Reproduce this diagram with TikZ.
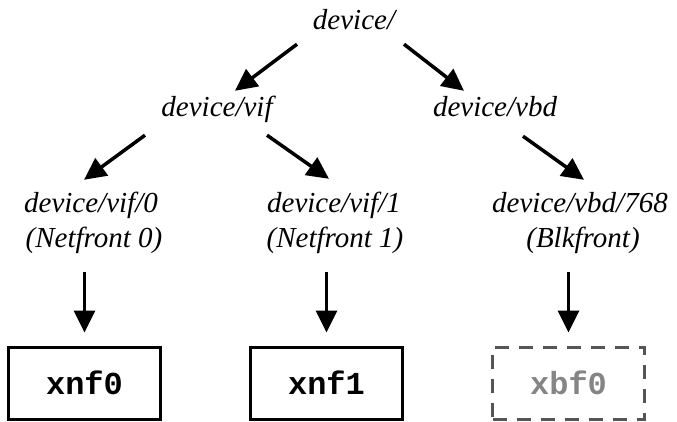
\documentclass[tikz,border=0pt]{standalone}
\usepackage{fontspec}
\setmainfont{Liberation Serif}
\setmonofont{Liberation Mono}
\usetikzlibrary{arrows.meta,calc}

\definecolor{dashgray}{HTML}{555555}
\definecolor{textgray}{HTML}{858585}

\begin{document}
\begin{tikzpicture}[x=1pt,y=-1pt,
    path/.style={font=\fontsize{29}{35}\selectfont\itshape, inner sep=0pt,
                 text height=20pt, text depth=6pt, anchor=base},
    dev/.style={draw, line width=3pt, minimum width=152pt, minimum height=72pt,
                font=\fontsize{32}{36}\selectfont\ttfamily\bfseries},
    ghost/.style={dev, draw=dashgray, text=textgray, dash pattern=on 14pt off 10pt},
    link/.style={line width=3.5pt, -{Triangle[length=22pt,width=21pt]}}]

    % --- Frame ---
    \useasboundingbox (0,0) rectangle (677,422);

    % --- Store paths ---
    \node[path] (root) at (354,30) {device/};
    \node[path] (vif) at (217,117) {device/vif};
    \node[path] (vbd) at (495,117) {device/vbd};

    \node[path] (vifzero) at (91,212) {device/vif/0};
    \node[path] (netzero) at (94,247) {(Netfront 0)};
    \node[path] (vifone) at (334,212) {device/vif/1};
    \node[path] (netone) at (335,247) {(Netfront 1)};
    \node[path] (vbdsvn) at (580,212) {device/vbd/768};
    \node[path] (blk) at (583,247) {(Blkfront)};

    % --- Devices in the guest ---
    \node[dev] (xnfzero) at (84.5,383) {xnf0};
    \node[dev] (xnfone) at (326.5,383) {xnf1};
    \node[ghost] (xbfzero) at (568.5,383) {xbf0};

    % --- Tree arrows ---
    \draw[link] ($(root.south)+(-57,8)$) -- ($(vif.north)+(18,-6)$);
    \draw[link] ($(root.south)+(50,8)$) -- ($(vbd.north)+(-31,-6)$);
    \draw[link] ($(vif.south)+(-72,12)$) -- ($(vifzero.north)+(-7,-12)$);
    \draw[link] ($(vif.south)+(50,12)$) -- ($(vifone.north)+(-5,-13)$);
    \draw[link] ($(vbd.south)+(28,13)$) -- ($(vbdsvn.north)+(4,-12)$);

    % --- Frontend to device ---
    \draw[link] ($(netzero.south -| xnfzero.north)+(0,19)$) -- ($(xnfzero.north)+(0,-13)$);
    \draw[link] ($(netone.south -| xnfone.north)+(0,19)$) -- ($(xnfone.north)+(0,-13)$);
    \draw[link] ($(blk.south -| xbfzero.north)+(0,19)$) -- ($(xbfzero.north)+(0,-13)$);

\end{tikzpicture}
\end{document}
